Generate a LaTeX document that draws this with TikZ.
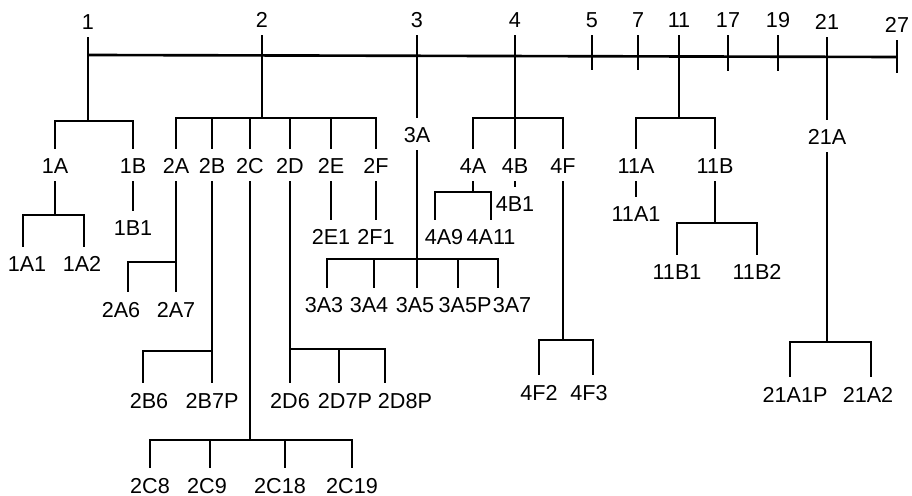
\documentclass[tikz,border=0pt]{standalone}
\usepackage{fontspec}
\setmainfont{Liberation Sans}
\usetikzlibrary{positioning,calc}

\begin{document}
\begin{tikzpicture}[
  x=0.02cm, y=-0.02cm,
  line width=1.5pt,
  lab/.style={font=\fontsize{12.3}{14}\selectfont, anchor=base, inner xsep=1pt, inner ysep=0pt, text height=13.6pt, text depth=3.5pt}
]
  \useasboundingbox (0,0) rectangle (912,496);

  \node[lab] (n1) at (88,30) {1};
  \node[lab] (n2) at (262,28) {2};
  \node[lab] (n3) at (417,28) {3};
  \node[lab] (n4) at (515,28) {4};
  \node[lab] (n5) at (592,28) {5};
  \node[lab] (n7) at (638,28) {7};
  \node[lab] (n11) at (679,28) {11};
  \node[lab] (n17) at (728,28) {17};
  \node[lab] (n19) at (778,28) {19};
  \node[lab] (n21) at (827,30) {21};
  \node[lab] (n27) at (897,33) {27};

  \coordinate (m1) at (88,55);
  \coordinate (m27) at (897,57);
  \coordinate (t5) at (592,70);
  \coordinate (t7) at (638,70);
  \coordinate (t17) at (728,71);
  \coordinate (t19) at (778,71);
  \coordinate (t27) at (897,73);

  \node[lab] (n1A) at (55,174) {1A};
  \node[lab] (n1B) at (133,174) {1B};
  \node[lab] (n2A) at (176,174) {2A};
  \node[lab] (n2B) at (212,174) {2B};
  \node[lab] (n2C) at (250,174) {2C};
  \node[lab] (n2D) at (290,174) {2D};
  \node[lab] (n2E) at (331,174) {2E};
  \node[lab] (n2F) at (376,174) {2F};
  \node[lab] (n3A) at (417,143) {3A};
  \node[lab] (n4A) at (473,174) {4A};
  \node[lab] (n4B) at (515,174) {4B};
  \node[lab] (n4F) at (563,174) {4F};
  \node[lab] (n11A) at (636,174) {11A};
  \node[lab] (n11B) at (715,174) {11B};
  \node[lab] (n21A) at (827,145) {21A};

  \node[lab] (n1A1) at (27,272) {1A1};
  \node[lab] (n1A2) at (82,272) {1A2};
  \node[lab] (n1B1) at (133,236) {1B1};
  \node[lab] (n2A6) at (121,317) {2A6};
  \node[lab] (n2A7) at (176,317) {2A7};
  \node[lab] (n2B6) at (149,408) {2B6};
  \node[lab] (n2B7P) at (212,408) {2B7P};
  \node[lab] (n2C8) at (150,493) {2C8};
  \node[lab] (n2C9) at (207,493) {2C9};
  \node[lab] (n2C18) at (280,493) {2C18};
  \node[lab] (n2C19) at (352,493) {2C19};
  \node[lab] (n2D6) at (290,408) {2D6};
  \node[lab] (n2D7P) at (345,408) {2D7P};
  \node[lab] (n2D8P) at (405,408) {2D8P};
  \node[lab] (n2E1) at (331,245) {2E1};
  \node[lab] (n2F1) at (376,245) {2F1};
  \node[lab] (n3A3) at (324,313) {3A3};
  \node[lab] (n3A4) at (369,313) {3A4};
  \node[lab] (n3A5) at (415,313) {3A5};
  \node[lab] (n3A5P) at (465,313) {3A5P};
  \node[lab] (n3A7) at (512,313) {3A7};
  \node[lab] (n4A9) at (444,245) {4A9};
  \node[lab] (n4A11) at (491,245) {4A11};
  \node[lab] (n4B1) at (515,212) {4B1};
  \node[lab] (n4F2) at (539,400) {4F2};
  \node[lab] (n4F3) at (589,400) {4F3};
  \node[lab] (n11A1) at (636,222) {11A1};
  \node[lab] (n11B1) at (677,280) {11B1};
  \node[lab] (n11B2) at (757,280) {11B2};
  \node[lab] (n21A1P) at (795,402) {21A1P};
  \node[lab] (n21A2) at (868,402) {21A2};

  \coordinate (j1) at (88,121);
  \coordinate (j2) at (262,118);
  \coordinate (j4) at (515,118);
  \coordinate (j11) at (679,118);
  \coordinate (j1A) at (55,215);
  \coordinate (j2A) at (176,262);
  \coordinate (j2B) at (212,351);
  \coordinate (j2C) at (250,440);
  \coordinate (j2D) at (290,349);
  \coordinate (j3A) at (417,259);
  \coordinate (j4A) at (473,192);
  \coordinate (j4F) at (563,340);
  \coordinate (j11B) at (715,223);
  \coordinate (j21A) at (827,342);

  % main line and ticks
  \draw (m1) -- (m27);
  \draw (n1) -- (j1);
  \draw (n2) -- (j2);
  \draw (n3) -- (n3A);
  \draw (n4) -- (j4);
  \draw (n5) -- (t5);
  \draw (n7) -- (t7);
  \draw (n11) -- (j11);
  \draw (n17) -- (t17);
  \draw (n19) -- (t19);
  \draw (n21) -- (n21A);
  \draw (n27) -- (t27);

  \draw (n1A.north) |- (j1);
  \draw (n1B.north) |- (j1);
  \foreach \c in {2A,2B,2C,2D,2E,2F} \draw (n\c.north) |- (j2);
  \foreach \c in {4A,4B,4F} \draw (n\c.north) |- (j4);
  \draw (n11A.north) |- (j11);
  \draw (n11B.north) |- (j11);

  \draw (n1A) -- (j1A);
  \draw ([xshift=-0.08cm]n1A1.north) |- (j1A);
  \draw ([xshift=0.04cm]n1A2.north) |- (j1A);
  \draw (n1B) -- (n1B1);

  \draw (n2A) -- (n2A7);
  \draw ([xshift=0.14cm]n2A6.north) |- (j2A);
  \draw (n2B) -- (n2B7P);
  \draw ([xshift=-0.12cm]n2B6.north) |- (j2B);
  \draw (n2C) -- (j2C);
  \draw (n2C8.north) |- (j2C);
  \draw ([xshift=0.06cm]n2C9.north) |- (j2C);
  \draw ([xshift=0.1cm]n2C18.north) |- (j2C);
  \draw (n2C19.north) |- (j2C);
  \draw (n2D) -- (n2D6);
  \draw ([xshift=-0.12cm]n2D7P.north) |- (j2D);
  \draw ([xshift=-0.4cm]n2D8P.north) |- (j2D);
  \draw (n2E) -- (n2E1);
  \draw (n2F) -- (n2F1);

  \draw (n3A) -- (j3A) -- (j3A |- n3A5.north);
  \draw ([xshift=0.06cm]n3A3.north) |- (j3A);
  \draw ([xshift=0.1cm]n3A4.north) |- (j3A);
  \draw ([xshift=-0.14cm]n3A5P.north) |- (j3A);
  \draw ([xshift=-0.28cm]n3A7.north) |- (j3A);

  \draw (n4A) -- (j4A);
  \draw ([xshift=-0.18cm]n4A9.north) |- (j4A);
  \draw (n4A11.north) |- (j4A);
  \draw (n4B) -- (n4B1);
  \draw (n4F) -- (j4F);
  \draw (n4F2.north) |- (j4F);
  \draw ([xshift=0.08cm]n4F3.north) |- (j4F);

  \draw (n11A) -- (n11A1);
  \draw (n11B) -- (j11B);
  \draw (n11B1.north) |- (j11B);
  \draw (n11B2.north) |- (j11B);

  \draw (n21A) -- (j21A);
  \draw ([xshift=-0.1cm]n21A1P.north) |- (j21A);
  \draw ([xshift=0.06cm]n21A2.north) |- (j21A);
\end{tikzpicture}
\end{document}
